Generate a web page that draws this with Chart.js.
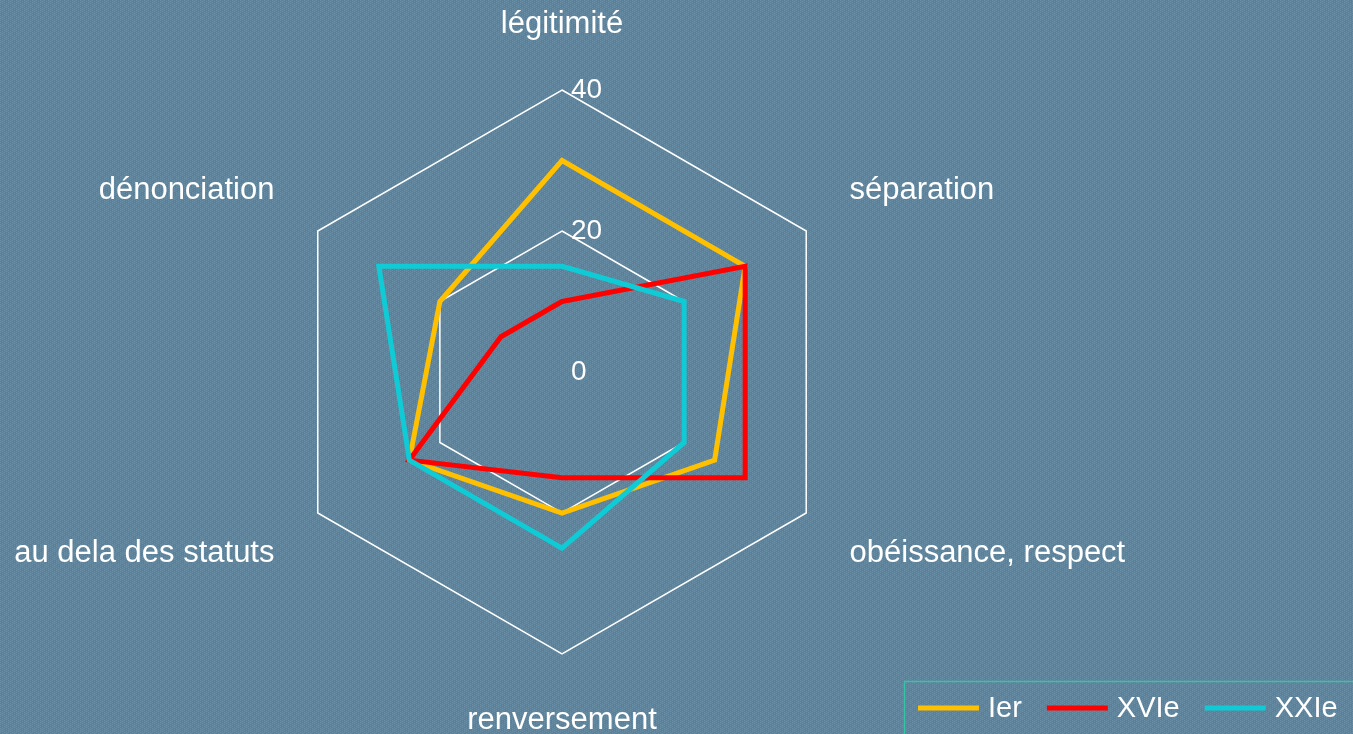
<!DOCTYPE html>
<html lang="fr">
<head>
<meta charset="utf-8">
<title>Radar</title>
<script src="https://cdn.jsdelivr.net/npm/chart.js@4.4.0/dist/chart.umd.min.js"></script>
<style>
  html, body { margin: 0; padding: 0; overflow: hidden; background: #5b8098; }
  canvas { display: block; }
</style>
</head>
<body>
<canvas id="radar" width="1353" height="734"></canvas>
<script>
// data
const categories = ['légitimité', 'séparation', 'obéissance, respect', 'renversement', 'au dela des statuts', 'dénonciation'];
const seriesNames = ['Ier', 'XVIe', 'XXIe'];
const ierValues = [30, 30, 25, 20, 25, 20];
const xvieValues = [10, 30, 30, 15, 25, 10];
const xxieValues = [15, 20, 20, 25, 25, 30];
const tickValues = [0, 20, 40];

const colors = {
  ier: '#ffc000',
  xvie: '#ff0000',
  xxie: '#0fcbd6',
  bgA: '#5a7f97',
  bgB: '#5f859d',
  dot: '#6a8ea5',
  grid: '#ffffff',
  legendBorder: '#34c4a6',
};
const FONT = "'Liberation Sans', Arial, sans-serif";

// checkered, dotted texture like the original background
function makePattern(ctx) {
  const p = document.createElement('canvas');
  p.width = 8; p.height = 8;
  const c = p.getContext('2d');
  c.fillStyle = colors.bgA;
  c.fillRect(0, 0, 8, 8);
  c.fillStyle = colors.bgB;
  c.fillRect(0, 0, 4, 4);
  c.fillRect(4, 4, 4, 4);
  c.fillStyle = colors.dot;
  for (let i = 0; i < 8; i += 2) {
    for (let j = (i / 2) % 2; j < 8; j += 2) c.fillRect(i, j, 1, 1);
  }
  return ctx.createPattern(p, 'repeat');
}

const backgroundPlugin = {
  id: 'bg',
  beforeDraw(chart) {
    const { ctx, width, height } = chart;
    ctx.save();
    ctx.fillStyle = makePattern(ctx);
    ctx.fillRect(0, 0, width, height);
    ctx.restore();
  }
};

// tick labels to the right of the vertical axis, point labels around the outer ring
const labelsPlugin = {
  id: 'labels',
  afterDatasetsDraw(chart) {
    const { ctx } = chart;
    const scale = chart.scales.r;
    ctx.save();
    ctx.fillStyle = '#ffffff';

    ctx.font = '28px ' + FONT;
    ctx.textAlign = 'left';
    ctx.textBaseline = 'middle';
    scale.ticks.forEach(t => {
      const d = scale.getDistanceFromCenterForValue(t.value);
      ctx.fillText(String(t.value), scale.xCenter + 9, scale.yCenter - d);
    });

    ctx.font = '31px ' + FONT;
    chart.data.labels.forEach((label, i) => {
      const dx = Math.round(scale.getPointPosition(i, 100).x - scale.xCenter);
      if (dx === 0) {
        const pos = scale.getPointPosition(i, scale.drawingArea + 66);
        ctx.textAlign = 'center';
        ctx.textBaseline = 'middle';
        ctx.fillText(label, pos.x, pos.y);
      } else {
        const pos = scale.getPointPosition(i, scale.drawingArea + 50);
        ctx.textAlign = dx > 0 ? 'left' : 'right';
        ctx.textBaseline = pos.y < scale.yCenter ? 'bottom' : 'top';
        ctx.fillText(label, pos.x, pos.y);
      }
    });
    ctx.restore();
  }
};

// legend in the bottom right corner, framed
const legendPlugin = {
  id: 'boxLegend',
  afterDraw(chart) {
    const { ctx, width, height } = chart;
    ctx.save();
    ctx.strokeStyle = colors.legendBorder;
    ctx.lineWidth = 1.5;
    ctx.beginPath();
    ctx.moveTo(904.5, height);
    ctx.lineTo(904.5, 681.5);
    ctx.lineTo(width, 681.5);
    ctx.stroke();

    ctx.font = '29px ' + FONT;
    ctx.textAlign = 'left';
    ctx.textBaseline = 'middle';
    let x = 918;
    const y = 708;
    chart.data.datasets.forEach(ds => {
      ctx.strokeStyle = ds.borderColor;
      ctx.lineWidth = 5;
      ctx.beginPath();
      ctx.moveTo(x, y);
      ctx.lineTo(x + 61, y);
      ctx.stroke();
      x += 70;
      ctx.fillStyle = '#ffffff';
      ctx.fillText(ds.label, x, y + 1);
      x += ctx.measureText(ds.label).width + 25;
    });
    ctx.restore();
  }
};

const series = [ierValues, xvieValues, xxieValues];
const seriesColors = [colors.ier, colors.xvie, colors.xxie];

new Chart(document.getElementById('radar'), {
  type: 'radar',
  data: {
    labels: categories,
    datasets: seriesNames.map((name, i) => ({
      label: name,
      data: series[i],
      borderColor: seriesColors[i],
      backgroundColor: 'transparent',
      borderWidth: 5,
      pointRadius: 0,
      fill: false,
      order: 3 - i,
    }))
  },
  options: {
    responsive: false,
    animation: false,
    devicePixelRatio: 1,
    layout: { padding: { top: 90, bottom: 80, left: 280, right: 509 } },
    plugins: {
      legend: { display: false },
      tooltip: { enabled: false },
    },
    scales: {
      r: {
        min: tickValues[0],
        max: tickValues[tickValues.length - 1],
        ticks: { display: false, stepSize: 20 },
        grid: { color: colors.grid, lineWidth: 1.5 },
        angleLines: { display: false },
        pointLabels: { display: false },
      }
    }
  },
  plugins: [backgroundPlugin, labelsPlugin, legendPlugin]
});
</script>
</body>
</html>
